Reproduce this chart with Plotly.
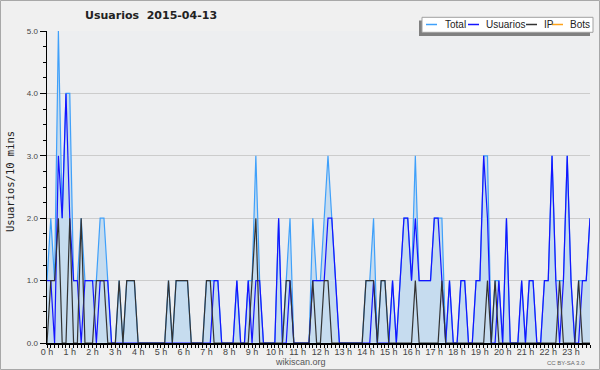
import plotly.graph_objects as go

# 10-minute slots over the day (index 0..143)
hour_labels = [f"{h} h" for h in range(24)]
y_labels = ["0.0", "1.0", "2.0", "3.0", "4.0", "5.0"]

total = [1,2,1,5,2,4,4,1,1,2,1,1,
         1,1,2,2,1,0,0,1,0,1,1,1,
         0,0,0,0,0,0,0,0,1,0,1,1,
         1,1,0,0,0,0,1,1,1,1,0,0,
         0,0,1,0,0,1,1,3,1,0,0,0,
         0,2,0,1,2,0,0,0,0,0,2,1,
         1,2,3,2,1,0,0,0,0,0,0,0,
         1,1,2,0,1,1,0,1,0,1,2,2,
         1,3,1,1,1,1,2,2,2,0,1,0,
         0,1,1,0,0,1,1,3,3,0,1,1,
         0,2,0,0,0,1,0,1,1,0,0,1,
         1,3,1,1,1,3,1,0,1,1,1,2]

usuarios = [1,1,0,3,2,4,2,1,1,0,1,1,
            1,0,1,1,1,0,0,0,0,0,0,0,
            0,0,0,0,0,0,0,0,0,0,0,0,
            0,0,0,0,0,0,0,0,1,1,0,0,
            0,0,1,0,0,1,0,1,1,0,0,0,
            0,2,0,0,1,0,0,0,0,0,1,1,
            1,1,2,2,1,0,0,0,0,0,0,0,
            0,0,1,0,0,0,0,1,0,1,2,2,
            1,2,1,1,1,1,2,2,1,0,1,0,
            0,1,1,0,0,1,1,3,2,0,0,1,
            0,2,0,0,0,1,0,1,1,0,0,1,
            1,3,1,0,1,3,1,0,0,1,1,2]

ip = [0,1,1,2,0,0,2,0,0,2,0,0,
      0,1,1,1,0,0,0,1,0,1,1,1,
      0,0,0,0,0,0,0,0,1,0,1,1,
      1,1,0,0,0,0,1,1,0,0,0,0,
      0,0,0,0,0,0,1,2,0,0,0,0,
      0,0,0,1,1,0,0,0,0,0,1,0,
      0,1,1,0,0,0,0,0,0,0,0,0,
      1,1,1,0,1,1,0,0,0,0,0,0,
      0,1,0,0,0,0,0,0,1,0,0,0,
      0,0,0,0,0,0,0,0,1,0,1,0,
      0,0,0,0,0,0,0,0,0,0,0,0,
      0,0,0,1,0,0,0,0,1,0,0,0]

bots = [0] * 144

hours = [i / 6 for i in range(len(total))]

C_TOTAL = "#3fa0fa"
C_USU = "#1414ff"
C_IP = "#333333"
C_BOTS = "#ffa31a"

fig = go.Figure()
fig.add_trace(go.Scatter(x=hours, y=total, mode="lines", fill="tozeroy",
                         fillcolor="#c6dcef", line=dict(color=C_TOTAL, width=1.2),
                         showlegend=False, hoverinfo="skip"))
fig.add_trace(go.Scatter(x=hours, y=usuarios, mode="lines",
                         line=dict(color=C_USU, width=1.2), showlegend=False,
                         hoverinfo="skip"))
fig.add_trace(go.Scatter(x=hours, y=ip, mode="lines",
                         line=dict(color=C_IP, width=1.2), showlegend=False,
                         hoverinfo="skip"))

W, H = 600, 370
L, R, T, B = 47, 10, 31, 27
pw, ph = W - L - R, H - T - B

def px(xp):
    return (xp - L) / pw

def py(yp):
    return 1 - (yp - T) / ph

shapes = []
# outer border
shapes.append(dict(type="rect", xref="paper", yref="paper",
                   x0=px(0.5), x1=px(599.5), y0=py(0.5), y1=py(369.5),
                   line=dict(color="#a8a8a8", width=1), layer="below"))
# legend shadow + box
shapes.append(dict(type="rect", xref="paper", yref="paper",
                   x0=px(419), x1=px(590), y0=py(20.5), y1=py(36),
                   fillcolor="#808080", line=dict(width=0)))
shapes.append(dict(type="rect", xref="paper", yref="paper",
                   x0=px(422), x1=px(593), y0=py(17.3), y1=py(32.3),
                   fillcolor="#ffffff", line=dict(color="#a0a0a0", width=1)))
legend_items = [("Total", C_TOTAL, 426, 443), ("Usuarios", C_USU, 468, 484),
                ("IP", C_IP, 526, 542), ("Bots", C_BOTS, 552, 568)]
annotations = []
for name, col, lx, tx in legend_items:
    shapes.append(dict(type="line", xref="paper", yref="paper",
                       x0=px(lx), x1=px(lx + 11), y0=py(24.5), y1=py(24.5),
                       line=dict(color=col, width=1.5)))
    annotations.append(dict(text=name, xref="paper", yref="paper",
                            x=px(tx), y=py(24.8), xanchor="left", yanchor="middle",
                            showarrow=False,
                            font=dict(family="Liberation Sans", size=10, color="#222222")))

annotations += [
    dict(text="<b>Usuarios  2015-04-13</b>", xref="paper", yref="paper",
         x=px(151), y=py(16), xanchor="center", yanchor="middle", showarrow=False,
         font=dict(family="DejaVu Sans", size=11, color="#222222")),
    dict(text="Usuarios/10 mins", xref="paper", yref="paper",
         x=px(10), y=py(182), xanchor="center", yanchor="middle", showarrow=False,
         textangle=-90,
         font=dict(family="DejaVu Sans Mono", size=10.5, color="#222222")),
    dict(text="wikiscan.org", xref="paper", yref="paper",
         x=px(300), y=py(362), xanchor="center", yanchor="middle", showarrow=False,
         font=dict(family="Liberation Sans", size=9, color="#555555")),
    dict(text="CC BY-SA 3.0", xref="paper", yref="paper",
         x=px(566), y=py(363), xanchor="center", yanchor="middle", showarrow=False,
         font=dict(family="Liberation Sans", size=6, color="#666666")),
]

fig.update_layout(
    width=W, height=H,
    margin=dict(l=L, r=R, t=T, b=B, pad=0),
    paper_bgcolor="#f0f0f0",
    plot_bgcolor="#edeef0",
    showlegend=False,
    hovermode=False,
    shapes=shapes,
    annotations=annotations,
)
fig.update_xaxes(range=[0, 143 / 6], tickmode="array",
                 tickvals=list(range(24)), ticktext=hour_labels,
                 ticks="outside", ticklen=3, tickwidth=1, tickcolor="#000000",
                 ticklabelstandoff=-3,
                 minor=dict(dtick=1 / 6, tick0=0, ticks="outside", ticklen=3,
                            tickcolor="#000000", showgrid=False),
                 showgrid=False, zeroline=False,
                 showline=True, linecolor="#000000", linewidth=1.5,
                 tickfont=dict(family="Liberation Sans", size=9, color="#444444"))
fig.update_yaxes(range=[0, 5], tickmode="array",
                 tickvals=[0, 1, 2, 3, 4, 5], ticktext=y_labels,
                 ticks="outside", ticklen=6, tickwidth=1, tickcolor="#000000",
                 minor=dict(dtick=0.25, tick0=0, ticks="outside", ticklen=3,
                            tickcolor="#000000", showgrid=False),
                 showgrid=True, gridcolor="#cccccc", gridwidth=1,
                 zeroline=False, showline=True, linecolor="#000000", linewidth=1.5,
                 tickfont=dict(family="Liberation Sans", size=8, color="#444444"))

fig.write_html("out.html",
               config={"displayModeBar": False, "staticPlot": True},
               post_script="document.body.style.margin='0';document.body.style.overflow='hidden';")
